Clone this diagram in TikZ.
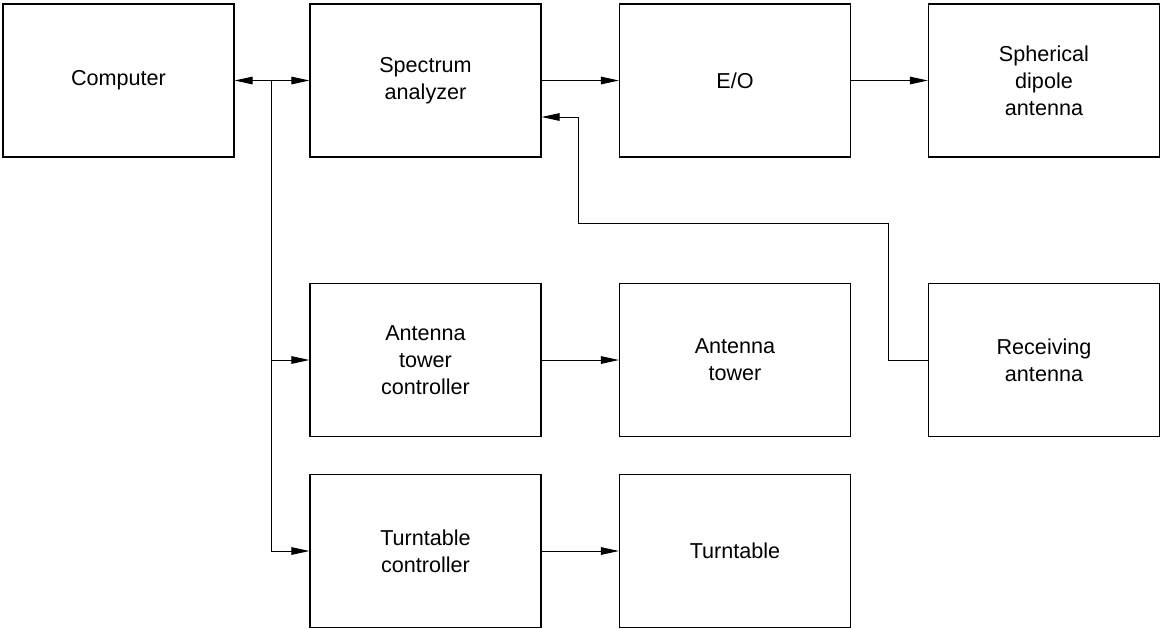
\documentclass[tikz,border=0pt]{standalone}
\usepackage{fontspec}
\setmainfont{Liberation Sans}
\usepackage{tikz}
\usetikzlibrary{arrows.meta}
\newcommand{\blockfont}{\fontsize{10.8}{13.6}\selectfont}

\begin{document}
\begin{tikzpicture}[x=0.5pt, y=-0.5pt,
    >={Triangle[length=9pt, width=3.8pt]},
    block/.style={draw, line width=0.65pt, minimum width=115.5pt, minimum height=76.5pt,
        inner sep=0pt, align=center, font=\blockfont},
    flow/.style={line width=0.5pt, ->}]
    \useasboundingbox (0,0) rectangle (1160,628);

    % Nodes
    \node[block] (computer) at (118.5,80.5) {Computer};
    \node[block] (analyzer) at (425.5,80.5) {Spectrum\\analyzer};
    \node[block] (eo) at (735,80.5) {E/O};
    \node[block] (dipole) at (1044,80.5) {Spherical\\dipole\\antenna};

    \node[block] (towerctrl) at (425.5,360) {Antenna\\tower\\controller};
    \node[block] (tower) at (735,360) {Antenna\\tower};
    \node[block] (receiver) at (1044,360) {Receiving\\antenna};

    \node[block] (tablectrl) at (425.5,551) {Turntable\\controller};
    \node[block] (table) at (735,551) {Turntable};

    % Bends
    \coordinate (split) at (271,80.5);
    \coordinate (upper) at (888,223);
    \coordinate (lower) at (578,117);

    % Connections
    \draw[flow, <->] (computer) -- (analyzer);
    \draw[flow] (split) |- (towerctrl.west);
    \draw[flow] (split) |- (tablectrl.west);
    \draw[flow] (analyzer) -- (eo);
    \draw[flow] (eo) -- (dipole);
    \draw[flow] (towerctrl) -- (tower);
    \draw[flow] (tablectrl) -- (table);
    \draw[flow] (receiver.west) -| (upper) -| (lower) -- (lower -| analyzer.east);
\end{tikzpicture}
\end{document}
